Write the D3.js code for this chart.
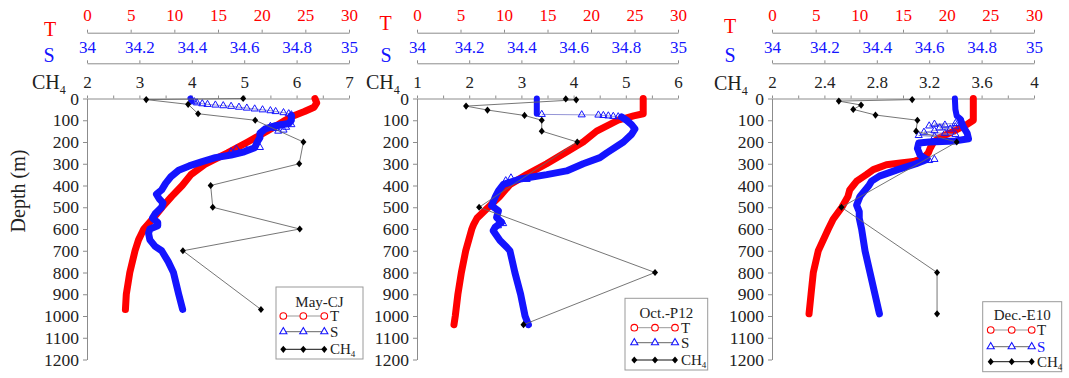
<!DOCTYPE html>
<html><head><meta charset="utf-8">
<script src="https://cdn.jsdelivr.net/npm/d3@7/dist/d3.min.js"></script>
<style>
body{margin:0;background:#fff;}
svg, svg text{font-family:"Liberation Serif","Times New Roman","DejaVu Serif",serif !important;}
svg{display:block;}
</style></head><body>
<svg id="c" width="1069" height="378"></svg>
<script>
// ---------------- data ----------------
const panelNames = ["May-CJ", "Oct.-P12", "Dec.-E10"];
const depthTicks = [0,100,200,300,400,500,600,700,800,900,1000,1100,1200];
const tTicks = [0,5,10,15,20,25,30];
const sTicks = [34,34.2,34.4,34.6,34.8,35];
const ch4TicksMay = [2,3,4,5,6,7];
const ch4TicksOct = [1,2,3,4,5,6];
const ch4TicksDec = [2,2.4,2.8,3.2,3.6,4];

// Panel 1 : May-CJ  ([depth m, value])
const mayT = [[0,26.1],[20,26.3],[40,26.0],[60,24.9],[80,23.6],[100,22.7],[130,21.5],[150,20.6],[200,18.4],[250,16.1],[300,13.6],[350,11.9],[400,10.9],[450,9.7],[500,8.6],[550,7.6],[600,6.5],[650,5.9],[700,5.5],[800,4.9],[900,4.5],[970,4.4]];
const maySTop = [[0,34.395],[12,34.40]];
const maySMix = [[15,34.41],[20,34.42],[24,34.44],[27,34.46],[30,34.49],[33,34.52],[36,34.55],[40,34.58],[44,34.61],[48,34.64],[52,34.67],[56,34.70],[60,34.72],[65,34.75],[70,34.77],[75,34.78]];
const mayS = [[78,34.78],[100,34.78],[115,34.77],[125,34.72],[140,34.68],[160,34.66],[180,34.66],[200,34.65],[226,34.64],[245,34.60],[260,34.55],[272,34.49],[290,34.44],[310,34.39],[330,34.35],[360,34.32],[390,34.30],[420,34.285],[440,34.265],[460,34.275],[480,34.29],[500,34.285],[530,34.26],[550,34.25],[570,34.27],[585,34.27],[600,34.24],[620,34.235],[650,34.24],[680,34.26],[700,34.285],[750,34.31],[800,34.33],[850,34.34],[900,34.35],[970,34.365]];
const maySScatter = [[120,34.78],[125,34.74],[128,34.70],[132,34.76],[138,34.72],[145,34.75],[150,34.73],[225,34.66],[232,34.57],[238,34.61],[245,34.55],[250,34.58]];
const mayCH4 = [[0,4.98],[5,3.13],[27,3.93],[70,4.12],[100,5.21],[200,6.13],[300,6.05],[400,4.36],[500,4.40],[600,6.06],[700,3.83],[970,5.32]];

// Panel 2 : Oct.-P12
const octT = [[0,26.0],[40,26.0],[70,26.0],[80,24.9],[100,23.1],[150,20.65],[200,19.1],[250,17.0],[300,14.9],[350,12.6],[395,10.7],[450,9.5],[500,8.2],[550,6.9],[580,6.5],[600,6.3],[700,5.6],[800,5.1],[900,4.7],[1000,4.4],[1040,4.25]];
const octSTop = [[0,34.459],[70,34.459]];
const octSMix = [[73,34.478],[75,34.631],[76,34.695],[78,34.714],[80,34.733],[82,34.752],[84,34.771]];
const octS = [[85,34.784],[100,34.803],[120,34.822],[140,34.835],[165,34.822],[200,34.791],[250,34.727],[272,34.701],[300,34.637],[333,34.573],[350,34.497],[370,34.395],[395,34.331],[425,34.312],[455,34.299],[493,34.286],[516,34.312],[547,34.305],[569,34.324],[592,34.299],[608,34.292],[653,34.318],[684,34.344],[700,34.356],[800,34.375],[900,34.397],[1000,34.414],[1040,34.427]];
const octSScatter = [[365,34.36],[372,34.42],[378,34.34],[575,34.33],[585,34.31]];
const octCH4 = [[2,3.85],[6,4.05],[35,1.94],[53,2.35],[78,3.06],[100,3.39],[150,3.39],[200,4.07],[500,2.19],[800,5.56],[1040,3.04]];

// Panel 3 : Dec.-E10
const decT = [[0,23.05],[100,23.05],[120,22.3],[150,20.8],[180,19.2],[200,18.5],[230,18.1],[250,17.9],[275,17.3],[290,16.2],[297,14.7],[305,13.1],[327,11.6],[350,10.8],[380,9.7],[400,9.3],[420,8.9],[450,8.7],[500,8.0],[555,7.0],[600,6.45],[700,5.3],[800,4.73],[900,4.47],[990,4.24]];
const decSTop = [[0,34.698],[50,34.70],[80,34.705],[95,34.72]];
const decSMix = [[115,34.70],[118,34.62],[122,34.66],[126,34.60],[130,34.70],[135,34.64],[140,34.68],[148,34.62],[155,34.58],[160,34.66],[165,34.70],[170,34.56],[175,34.62]];
const decS = [[100,34.72],[130,34.73],[160,34.745],[185,34.75],[195,34.70],[200,34.60],[205,34.56],[230,34.555],[260,34.565],[280,34.59],[300,34.55],[327,34.48],[357,34.41],[380,34.38],[400,34.37],[450,34.336],[490,34.323],[520,34.333],[550,34.333],[600,34.342],[700,34.355],[800,34.374],[900,34.393],[990,34.41]];
const decSScatter = [[285,34.60],[290,34.57],[280,34.62]];
const decCH4 = [[5,3.07],[12,2.51],[30,2.68],[50,2.62],[76,2.79],[100,3.11],[150,3.10],[200,3.41],[500,2.53],[800,3.26],[990,3.26]];

// ---------------- drawing ----------------
const FONT = '"Liberation Serif","Times New Roman","DejaVu Serif",serif';
const RED = "#ff0000", BLUE = "#1414ff", INK = "#222", AXIS = "#8c8c8c";
const svg = d3.select("#c");
const y = d3.scaleLinear().domain([0,1200]).range([98.5,359.5]);

const panels = [
  {name:panelNames[0], x0:87, x1:349, ch4Ticks:ch4TicksMay, ch4Minor:0.5,
   T:mayT, STop:maySTop, SMix:maySMix, S:mayS, SScatter:maySScatter, CH4:mayCH4,
   tLetter:[50,36], sLetter:[49,62], ch4Lab:[32,89],
   leg:{x:276,y:287,w:87,h:72,ty:306.5,rows:[316,331.7,349.3],mx:[283.3,303.3,324.3],tx:330,sBlue:false}},
  {name:panelNames[1], x0:417, x1:678, ch4Ticks:ch4TicksOct, ch4Minor:0.5,
   T:octT, STop:octSTop, SMix:octSMix, S:octS, SScatter:octSScatter, CH4:octCH4,
   tLetter:[385.5,29.5], sLetter:[386,61.5], ch4Lab:[366,89],
   leg:{x:625,y:298.3,w:82.7,h:71.7,ty:317.5,rows:[327.7,342.7,360],mx:[634.3,655,675],tx:681,sBlue:false}},
  {name:panelNames[2], x0:772, x1:1034, ch4Ticks:ch4TicksDec, ch4Minor:0.2,
   T:decT, STop:decSTop, SMix:decSMix, S:decS, SScatter:decSScatter, CH4:decCH4,
   tLetter:[730,33], sLetter:[730,62], ch4Lab:[714,90],
   leg:{x:982.7,y:301.7,w:79,h:70,ty:320,rows:[330,346.7,361.7],mx:[990.7,1011.7,1031.7],tx:1037,sBlue:true}}
];

const diamond = "M0,-3.6L3,0L0,3.6L-3,0Z";
const tri = d3.symbol().type(d3.symbolTriangle).size(22);

function styleAxis(g, color, fs){
  g.attr("font-family", FONT);
  g.select(".domain").attr("stroke", AXIS).attr("stroke-width",1);
  g.selectAll(".tick line").attr("stroke", AXIS).attr("stroke-width",1);
  g.selectAll(".tick text").attr("fill", color).style("font-size", fs+"px");
}

panels.forEach((p,i) => {
  const xT = d3.scaleLinear().domain([0,30]).range([p.x0,p.x1]);
  const xS = d3.scaleLinear().domain([34,35]).range([p.x0,p.x1]);
  const cd = [p.ch4Ticks[0], p.ch4Ticks[p.ch4Ticks.length-1]];
  const xC = d3.scaleLinear().domain(cd).range([p.x0,p.x1]);
  const fmt = d3.format("~g");

  const gT = svg.append("g").attr("transform","translate(0,32.7)")
    .call(d3.axisTop(xT).tickValues(tTicks).tickSize(3).tickSizeOuter(0).tickPadding(9).tickFormat(fmt));
  styleAxis(gT, RED, 17);
  const gS = svg.append("g").attr("transform","translate(0,63.3)")
    .call(d3.axisTop(xS).tickValues(sTicks).tickSize(3).tickSizeOuter(0).tickPadding(7).tickFormat(fmt));
  styleAxis(gS, BLUE, 17);
  const minor = d3.range(cd[0], cd[1] + 1e-9, p.ch4Minor).map(v => +v.toFixed(3));
  const majorSet = new Set(p.ch4Ticks.map(v => +v.toFixed(3)));
  const gC = svg.append("g").attr("transform",`translate(0,${y(0)})`)
    .call(d3.axisTop(xC).tickValues(minor).tickSize(3).tickSizeOuter(0).tickPadding(8)
      .tickFormat(v => majorSet.has(+v.toFixed(3)) ? fmt(v) : ""));
  styleAxis(gC, INK, 17);
  const gY = svg.append("g").attr("transform",`translate(${p.x0},0)`)
    .call(d3.axisLeft(y).tickValues(depthTicks).tickSize(4).tickSizeOuter(0).tickPadding(4).tickFormat(d3.format("d")));
  styleAxis(gY, INK, 17.5);

  svg.append("text").attr("x",p.tLetter[0]).attr("y",p.tLetter[1]).attr("text-anchor","middle")
    .style("font-size","20px").attr("fill",RED).text("T");
  svg.append("text").attr("x",p.sLetter[0]).attr("y",p.sLetter[1]).attr("text-anchor","middle")
    .style("font-size","20px").attr("fill",BLUE).text("S");
  const cl = svg.append("text").attr("x",p.ch4Lab[0]).attr("y",p.ch4Lab[1]).style("font-size","20px").attr("fill",INK);
  cl.append("tspan").text("CH");
  cl.append("tspan").style("font-size","12px").attr("dy",5).text("4");

  const lineT = d3.line().x(d => xT(d[1])).y(d => y(d[0]));
  const lineS = d3.line().x(d => xS(d[1])).y(d => y(d[0]));
  const lineC = d3.line().x(d => xC(d[1])).y(d => y(d[0]));

  svg.append("path").attr("d", lineT(p.T)).attr("fill","none").attr("stroke",RED)
    .attr("stroke-width",7).attr("stroke-linejoin","round").attr("stroke-linecap","round");

  svg.append("path").attr("d", lineS(p.STop)).attr("fill","none").attr("stroke",BLUE)
    .attr("stroke-width",6).attr("stroke-linejoin","round").attr("stroke-linecap","round");
  svg.append("path").attr("d", lineS(p.SMix)).attr("fill","none").attr("stroke","#7a7acc")
    .attr("stroke-width",0.8);
  svg.selectAll(null).data(p.SMix.concat(p.SScatter)).enter().append("path")
    .attr("d", tri).attr("transform", d => `translate(${xS(d[1])},${y(d[0])})`)
    .attr("fill","none").attr("stroke",BLUE).attr("stroke-width",1);
  svg.append("path").attr("d", lineS(p.S)).attr("fill","none").attr("stroke",BLUE)
    .attr("stroke-width",7).attr("stroke-linejoin","round").attr("stroke-linecap","round");

  svg.append("path").attr("d", lineC(p.CH4)).attr("fill","none").attr("stroke","#666").attr("stroke-width",0.9);
  svg.selectAll(null).data(p.CH4).enter().append("path").attr("d", diamond)
    .attr("transform", d => `translate(${xC(d[1])},${y(d[0])})`).attr("fill","#000");

  const L = p.leg;
  const lg = svg.append("g");
  lg.append("rect").attr("x",L.x).attr("y",L.y).attr("width",L.w).attr("height",L.h)
    .attr("fill","#fff").attr("stroke","#9a9a9a").attr("stroke-width",1);
  lg.append("text").attr("x",L.x+L.w/2).attr("y",L.ty).attr("text-anchor","middle")
    .style("font-size","15px").attr("fill",INK).text(p.name);
  const rows = [
    {lab:"T", line:"#999", col:INK},
    {lab:"S", line:"#666", col: L.sBlue ? BLUE : INK},
    {lab:"CH", line:"#111", col:INK}
  ];
  rows.forEach((r,k) => {
    const ry = L.rows[k];
    lg.append("line").attr("x1",L.mx[0]).attr("x2",L.mx[2]).attr("y1",ry).attr("y2",ry)
      .attr("stroke",r.line).attr("stroke-width",1);
    L.mx.forEach(mx => {
      if (k===0) lg.append("circle").attr("cx",mx).attr("cy",ry).attr("r",3.3)
        .attr("fill","#fff").attr("stroke",RED).attr("stroke-width",1.1);
      else if (k===1) lg.append("path").attr("d",tri).attr("transform",`translate(${mx},${ry})`)
        .attr("fill","#fff").attr("stroke",BLUE).attr("stroke-width",1.1);
      else lg.append("path").attr("d",diamond).attr("transform",`translate(${mx},${ry})`).attr("fill","#000");
    });
    const t = lg.append("text").attr("x",L.tx).attr("y",ry+5).style("font-size","15px").attr("fill",r.col);
    t.append("tspan").text(r.lab);
    if (k===2) t.append("tspan").style("font-size","9px").attr("dy",3).text("4");
  });
});

svg.append("text").attr("transform","translate(25,191) rotate(-90)").attr("text-anchor","middle")
  .style("font-size","20px").attr("fill",INK).text("Depth (m)");
</script>
</body></html>
